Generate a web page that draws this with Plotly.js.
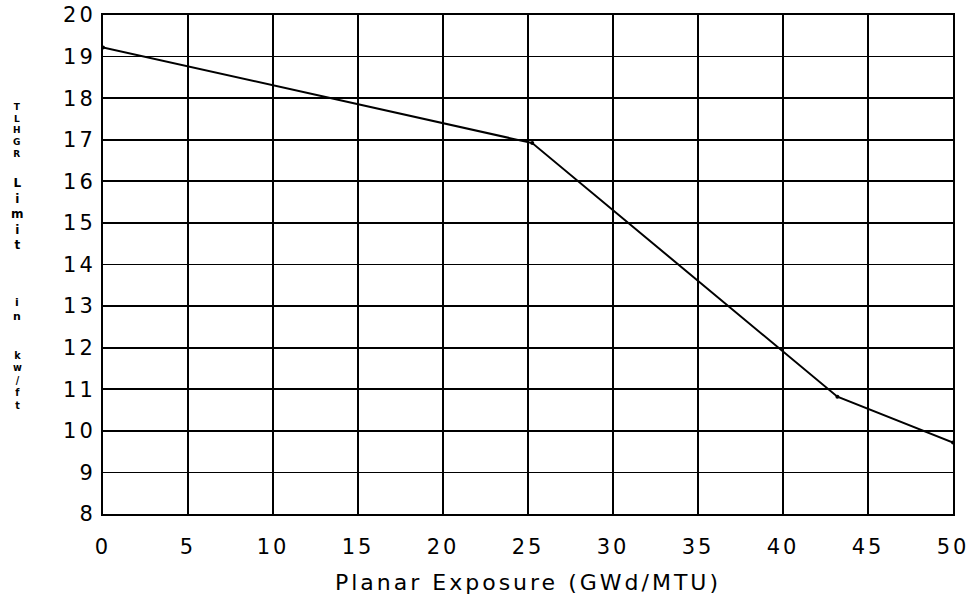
<!DOCTYPE html>
<html>
<head>
<meta charset="utf-8">
<script src="https://cdn.plot.ly/plotly-3.0.1.min.js"></script>
<style>
html,body{margin:0;padding:0;background:#fff;}
#chart{width:975px;height:601px;}
#chart .xtick text, #chart .ytick text {letter-spacing: 3px;}
#chart .xtitle {letter-spacing: 3px;}
</style>
</head>
<body>
<div id="chart"></div>
<script>
// Data
const exposure = [0, 25.25, 43.2, 50];
const lhgrLimit = [19.22, 16.92, 10.82, 9.72];
const xTicks = [0, 5, 10, 15, 20, 25, 30, 35, 40, 45, 50];
const yTicks = [8, 9, 10, 11, 12, 13, 14, 15, 16, 17, 18, 19, 20];
const xTitle = 'Planar Exposure (GWd/MTU)';
// y-axis title is printed as vertically stacked letters, word by word
const yTitleWords = ['TLHGR', 'Limit', 'in', 'kw/ft'];
const yTitleWordCenterPx = [130, 214, 309, 380];
const yTitleWordFontPx = [9, 12, 11, 9.6];

const trace = {
  x: exposure, y: lhgrLimit, type: 'scatter', mode: 'lines+markers',
  line: {color: '#000', width: 2},
  marker: {color: '#000', size: 4},
  hoverinfo: 'skip'
};

const fam = 'DejaVu Sans, Verdana, sans-serif';
const tickFont = {family: fam, size: 21, color: '#000'};
const annotations = yTitleWords.map((w, i) => ({
  text: w.split('').join('<br>'), xref: 'paper', yref: 'paper',
  x: (17 - 103) / 850, xanchor: 'center',
  y: 1 - (yTitleWordCenterPx[i] - 15) / 499, yanchor: 'middle',
  showarrow: false, align: 'center',
  font: {family: fam, size: yTitleWordFontPx[i], color: '#000', weight: 'bold'}
}));

const layout = {
  width: 975, height: 601,
  margin: {l: 103, r: 22, t: 15, b: 87},
  paper_bgcolor: '#fff', plot_bgcolor: '#fff',
  showlegend: false,
  xaxis: {
    range: [0, 50], tickvals: xTicks, ticktext: xTicks.map(String),
    showgrid: true, gridcolor: '#000', gridwidth: 1.8,
    showline: true, linecolor: '#000', linewidth: 2, mirror: true,
    zeroline: false, ticks: '', ticklabelstandoff: 13,
    tickfont: tickFont,
    title: {text: xTitle, font: {family: fam, size: 22, color: '#000'}, standoff: 16}
  },
  yaxis: {
    range: [8, 20], tickvals: yTicks, ticktext: yTicks.map(String),
    showgrid: true, gridcolor: '#000', gridwidth: 1.8,
    showline: true, linecolor: '#000', linewidth: 2, mirror: true,
    zeroline: false, ticks: '', ticklabelstandoff: 1,
    tickfont: tickFont
  },
  annotations: annotations
};

Plotly.newPlot('chart', [trace], layout, {staticPlot: true, displayModeBar: false});
</script>
</body>
</html>
